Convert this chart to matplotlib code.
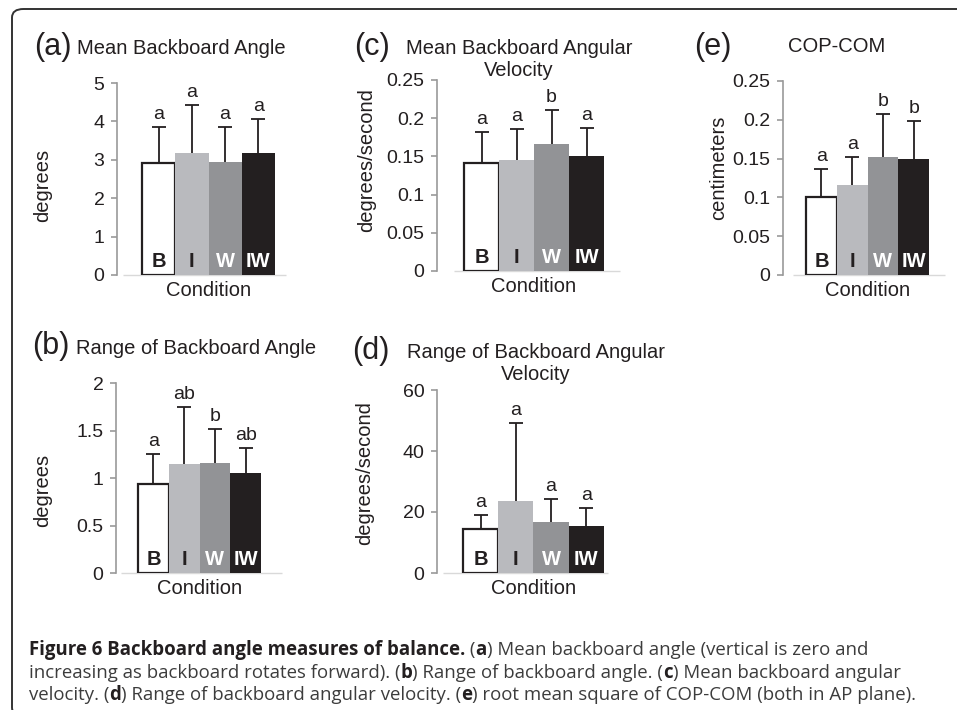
import numpy as np
import matplotlib
matplotlib.use('Agg')
import matplotlib.pyplot as plt
from matplotlib.patches import FancyBboxPatch

plt.rcParams['font.family'] = ['Liberation Sans', 'DejaVu Sans']

# Data
conditions = ['B', 'I', 'W', 'IW']

mean_angle = [2.92, 3.17, 2.94, 3.17]
mean_angle_sd = [0.93, 1.25, 0.91, 0.88]
mean_angle_sig = ['a', 'a', 'a', 'a']

range_angle = [0.94, 1.15, 1.16, 1.05]
range_angle_sd = [0.31, 0.60, 0.36, 0.27]
range_angle_sig = ['a', 'ab', 'b', 'ab']

mean_vel = [0.142, 0.145, 0.166, 0.150]
mean_vel_sd = [0.040, 0.041, 0.045, 0.037]
mean_vel_sig = ['a', 'a', 'b', 'a']

range_vel = [14.3, 23.6, 16.7, 15.5]
range_vel_sd = [4.8, 25.6, 7.6, 5.8]
range_vel_sig = ['a', 'a', 'a', 'a']

cop_com = [0.101, 0.116, 0.152, 0.150]
cop_com_sd = [0.035, 0.036, 0.056, 0.048]
cop_com_sig = ['a', 'a', 'b', 'b']

bar_colors = ['white', '#b9babe', '#929396', '#231f20']
label_colors = ['#231f20', '#231f20', 'white', 'white']
DARK = '#231f20'

W, H = 957, 710
fig = plt.figure(figsize=(W / 100, H / 100), dpi=100)

# frame round the figure (cut off on the right and bottom, like the reference)
frame = FancyBboxPatch((12 / W, 1 - 716 / H), 1.1, (716 - 9) / H,
                       boxstyle='round,pad=0,rounding_size=0.012',
                       transform=fig.transFigure, fill=False,
                       edgecolor='#333333', linewidth=1.4, clip_on=True)
fig.patches.append(frame)


def panel(vals, sds, sig, ymax, ystep, ylabel, box, ylabel_xy):
    # box: spine x, bar left, bar right, baseline left, baseline right, y0, ytop (pixels)
    spine, bl, br, basel, baser, y0, ytop = box
    ax = fig.add_axes([spine / W, 1 - y0 / H, (baser - spine) / W, (y0 - ytop) / H])
    unit = (br - bl) / 4
    xmin = -0.5 - (bl - spine) / unit
    xmax = 3.5 + (baser - br) / unit
    x = np.arange(len(conditions))
    tops = np.array(vals) + np.array(sds)
    ax.bar(x, vals, width=1.0, color=bar_colors,
           edgecolor=[DARK, bar_colors[1], bar_colors[2], bar_colors[3]],
           linewidth=[1.6, 0, 0, 0], zorder=3)
    # upper error bars only
    ax.vlines(x, vals, tops, color=DARK, linewidth=1.3, zorder=2)
    ax.plot(x, tops, linestyle='none', marker='_', markersize=10,
            markeredgewidth=1.3, color=DARK, zorder=2)
    for xi, t, lab in zip(x, tops, sig):
        ax.annotate(lab, (xi, t), xytext=(0, 8), textcoords='offset pixels',
                    ha='center', va='baseline', fontsize=14, color=DARK)
    for xi, c, tc in zip(x, conditions, label_colors):
        ax.annotate(c, (xi, 0), xytext=(0, 8), textcoords='offset pixels',
                    ha='center', va='baseline', fontsize=14.5, fontweight='bold',
                    color=tc, zorder=5)
    ax.hlines(0, xmin + (basel - spine) / unit, xmax, color='#d9d9d9',
              linewidth=1.0, zorder=1, clip_on=False)
    ax.set_xlim(xmin, xmax)
    ax.set_ylim(0, ymax)
    ticks = np.arange(0, ymax + ystep / 2, ystep)
    ax.set_yticks(ticks)
    ax.set_yticklabels([f'{t:g}' for t in ticks])
    ax.set_xticks([])
    for s in ['top', 'right', 'bottom']:
        ax.spines[s].set_visible(False)
    ax.spines['left'].set_color('#999999')
    ax.spines['left'].set_linewidth(1.2)
    ax.tick_params(axis='y', length=4, width=1.2, color='#999999',
                   labelsize=14, labelcolor=DARK, pad=5)
    ax.patch.set_alpha(0)
    ax.annotate('Condition', (1.5, 0), xytext=(0, -16), textcoords='offset pixels',
                ha='center', va='center', fontsize=14.5, color=DARK)
    fig.text(ylabel_xy[0] / W, 1 - ylabel_xy[1] / H, ylabel, rotation=90,
             ha='center', va='center', fontsize=14.5, color=DARK)
    return ax


panel(mean_angle, mean_angle_sd, mean_angle_sig, 5, 1, 'degrees',
      (117, 142, 275, 123, 286, 275, 83), (43, 185))
panel(mean_vel, mean_vel_sd, mean_vel_sig, 0.25, 0.05, 'degrees/second',
      (437, 464, 604, 454, 620, 271, 80), (367, 160))
panel(cop_com, cop_com_sd, cop_com_sig, 0.25, 0.05, 'centimeters',
      (783, 806, 929, 793, 945, 275, 81), (719, 168))
panel(range_angle, range_angle_sd, range_angle_sig, 2, 0.5, 'degrees',
      (116, 138, 261, 121, 282, 573, 383), (43, 490))
panel(range_vel, range_vel_sd, range_vel_sig, 60, 20, 'degrees/second',
      (437, 463, 604, 443, 608, 573, 390), (365, 473))


# panel titles
def title(letter, lx, ly, text, tx, ty, ha='left', line2=None):
    fig.text(lx / W, 1 - ly / H, letter, ha='left', va='center', fontsize=22, color=DARK)
    fig.text(tx / W, 1 - ty / H, text, ha=ha, va='center', fontsize=14.5, color=DARK)
    if line2:
        fig.text(tx / W, 1 - (ty + 22) / H, line2, ha=ha, va='center',
                 fontsize=14.5, color=DARK)


title('(a)', 34, 47, 'Mean Backboard Angle', 77, 49)
title('(c)', 354, 47, 'Mean Backboard Angular', 519, 48, ha='center', line2='Velocity')
title('(e)', 694, 47, 'COP-COM', 788, 47)
title('(b)', 32, 346, 'Range of Backboard Angle', 76, 348)
title('(d)', 352, 351, 'Range of Backboard Angular', 536, 352, ha='center', line2='Velocity')

# caption with bold pieces
cap_lines = [
    [('Figure 6 Backboard angle measures of balance.', True), (' (', False), ('a', True),
     (') Mean backboard angle (vertical is zero and', False)],
    [('increasing as backboard rotates forward). (', False), ('b', True),
     (') Range of backboard angle. (', False), ('c', True), (') Mean backboard angular', False)],
    [('velocity. (', False), ('d', True), (') Range of backboard angular velocity. (', False),
     ('e', True), (') root mean square of COP-COM (both in AP plane).', False)],
]
cap_base = [655, 678, 700]
renderer = fig.canvas.get_renderer()
for segs, yb in zip(cap_lines, cap_base):
    x = 29
    for s, bold in segs:
        t = fig.text(x / W, 1 - yb / H, s, ha='left', va='baseline',
                     fontsize=13.4, family=['Open Sans', 'DejaVu Sans'],
                     fontweight='bold' if bold else 'normal',
                     color=DARK if bold else '#3c3c3c')
        x += t.get_window_extent(renderer).width

fig.savefig('out.png', dpi=100)
